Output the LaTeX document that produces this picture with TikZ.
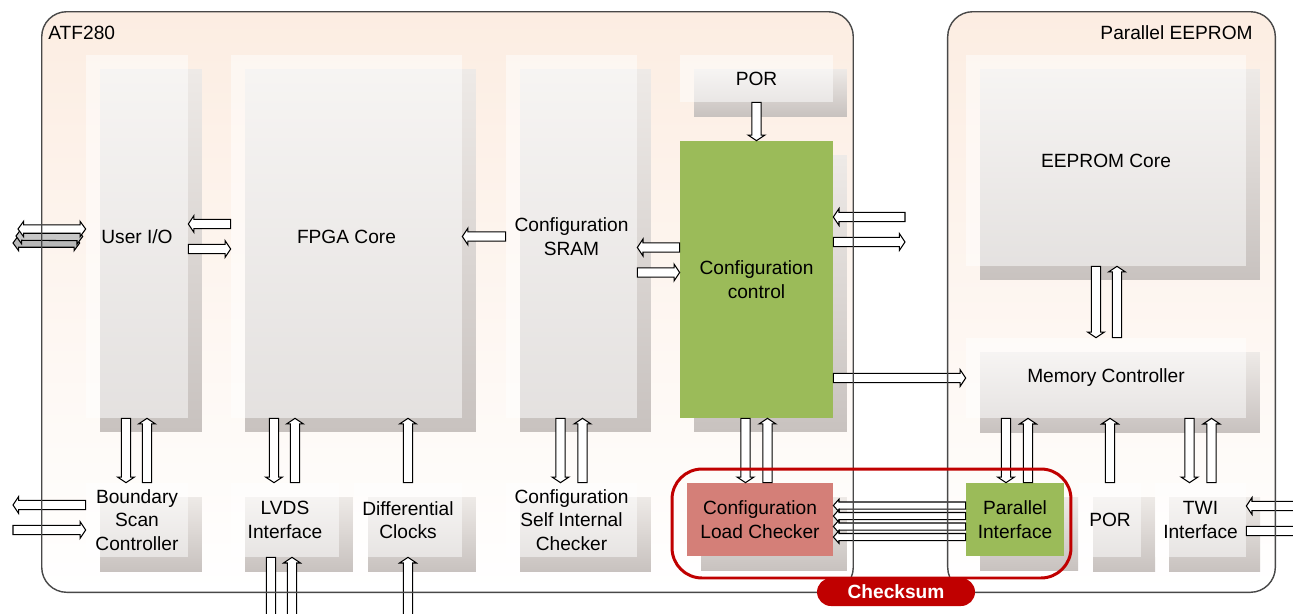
\documentclass[tikz,border=0pt]{standalone}
\usepackage{fontspec}
\setmainfont{Liberation Sans}
\usetikzlibrary{calc,shadows}
\definecolor{peach}{HTML}{FCEDE2}
\definecolor{blkgreen}{HTML}{9BBB59}
\definecolor{blkred}{HTML}{D47F78}
\definecolor{cksred}{HTML}{C00000}
\definecolor{frame}{HTML}{484848}
\definecolor{shtop}{HTML}{EEEAE7}
\definecolor{shbot}{HTML}{C8C2BF}
\tikzset{
    blkarrow/.style 2 args={to path={let \p1=(\tikztostart), \p2=(\tikztotarget), \p3=($(\p2)!3.2pt!(\p1)$) in
        ($(\p1)!#1!90:(\p2)$) -- ($(\p3)!#1!90:(\p2)$) -- ($(\p3)!#2!90:(\p2)$) -- (\p2)
        -- ($(\p3)!#2!-90:(\p2)$) -- ($(\p3)!#1!-90:(\p2)$) -- ($(\p1)!#1!-90:(\p2)$) -- cycle}},
    blkdarrow/.style 2 args={to path={let \p1=(\tikztostart), \p2=(\tikztotarget), \p3=($(\p2)!3.2pt!(\p1)$), \p4=($(\p1)!3.2pt!(\p2)$) in
        ($(\p4)!#1!90:(\p2)$) -- ($(\p3)!#1!90:(\p2)$) -- ($(\p3)!#2!90:(\p2)$) -- (\p2)
        -- ($(\p3)!#2!-90:(\p2)$) -- ($(\p3)!#1!-90:(\p2)$) -- ($(\p4)!#1!-90:(\p2)$)
        -- ($(\p4)!#2!-90:(\p2)$) -- (\p1) -- ($(\p4)!#2!90:(\p2)$) -- cycle}}
}
\begin{document}
\begin{tikzpicture}[x=0.02cm, y=-0.02cm, font=\fontsize{10.9}{13.3}\selectfont]
        \useasboundingbox (0,0) rectangle (1293,613);
        \begin{scope}
            \tikzstyle{every node}=[rectangle, rounded corners=0.5cm, top color=peach, bottom color=white, minimum height=11.6cm]
            \node (atf) at (447.5,302) [minimum width=16.22cm] {};
            \node (eep) at (1111.5,302) [minimum width=6.54cm] {};
        \end{scope}
        \node (atflbl) at (48,33) [anchor=west, inner sep=0pt] {ATF280};
        \node (eeplbl) at (1253,33) [anchor=east, inner sep=0pt] {Parallel EEPROM};
        \begin{scope}
            \tikzstyle{every node}=[rectangle, inner sep=0pt, align=center, fill=white, fill opacity=0.5, text opacity=1,
                drop shadow={shadow xshift=0.28cm, shadow yshift=-0.28cm, opacity=1, top color=shtop, bottom color=shbot}]
            \node (uio) at (137,236.5) [minimum width=2.04cm, minimum height=7.26cm] {User I/O};
            \node (fpga) at (346.5,236.5) [minimum width=4.62cm, minimum height=7.26cm] {FPGA Core};
            \node (sram) at (571.5,236.5) [minimum width=2.62cm, minimum height=7.26cm] {Configuration\\SRAM};
            \node (por1) at (756.5,78.5) [minimum width=3.06cm, minimum height=0.94cm] {POR};
            \node (cfgctl) at (756.5,279.5) [minimum width=3.06cm, minimum height=5.54cm, fill=blkgreen, fill opacity=1] {Configuration\\control};
            \node (bsc) at (137,520) [minimum width=2.04cm, minimum height=1.48cm] {Boundary\\Scan\\Controller};
            \node (lvds) at (285,520) [minimum width=2.16cm, minimum height=1.48cm] {LVDS\\Interface};
            \node (dclk) at (408,520) [minimum width=2.16cm, minimum height=1.48cm] {Differential\\Clocks};
            \node (csic) at (571.5,520) [minimum width=2.62cm, minimum height=1.48cm] {Configuration\\Self Internal\\Checker};
            \node (clc) at (760,519.5) [minimum width=2.92cm, minimum height=1.46cm, fill=blkred, fill opacity=1] {Configuration\\Load Checker};
            \node (eecore) at (1106,160.5) [minimum width=5.6cm, minimum height=4.22cm] {EEPROM Core};
            \node (memctl) at (1106,378) [minimum width=5.6cm, minimum height=1.6cm] {Memory Controller};
            \node (pif) at (1015,519.5) [minimum width=1.96cm, minimum height=1.46cm, fill=blkgreen, fill opacity=1] {Parallel\\Interface};
            \node (por2) at (1110,520) [minimum width=1.24cm, minimum height=1.48cm] {POR};
            \node (twi) at (1200.5,520) [minimum width=1.82cm, minimum height=1.48cm] {TWI\\Interface};
        \end{scope}
        \coordinate (extin) at (905,217);
        \coordinate (extout) at (905,242);
        \coordinate (lvdsout) at (271,625);
        \coordinate (lvdsin) at (292,625);
        \coordinate (dclkin) at (408,625);
        \coordinate (twiin) at (1300,506);
        \coordinate (twiout) at (1300,531);
        \coordinate (bscout) at (13,505);
        \coordinate (bscin) at (13,530);
        \coordinate (uioext1) at (18,229);
        \coordinate (uioext2) at (16,236);
        \coordinate (uioext3) at (13,243);
        \begin{scope}
            \tikzstyle{every edge}=[draw, fill=white, line width=0.6pt, blkarrow={2.6pt}{4.8pt}]
            \path
            ($(uio.south)+(-11,0)$) edge ($(bsc.north)+(-11,0)$)
            ($(bsc.north)+(10,0)$) edge ($(uio.south)+(10,0)$)
            ($(fpga.south -| lvds.north)+(-11,0)$) edge ($(lvds.north)+(-11,0)$)
            ($(lvds.north)+(10,0)$) edge ($(fpga.south -| lvds.north)+(10,0)$)
            (dclk.north) edge (fpga.south -| dclk.north)
            ($(sram.south)+(-11,0)$) edge ($(csic.north)+(-11,0)$)
            ($(csic.north)+(11,0)$) edge ($(sram.south)+(11,0)$)
            ($(cfgctl.south)+(-11,0)$) edge ($(clc.north -| cfgctl.south)+(-11,0)$)
            ($(clc.north -| cfgctl.south)+(11,0)$) edge ($(cfgctl.south)+(11,0)$)
            (por1.south) edge (cfgctl.north)
            ($(eecore.south)+(-10,0)$) edge ($(memctl.north)+(-10,0)$)
            ($(memctl.north)+(11,0)$) edge ($(eecore.south)+(11,0)$)
            ($(memctl.south -| pif.north)+(-9,0)$) edge ($(pif.north)+(-9,0)$)
            ($(pif.north)+(13,0)$) edge ($(memctl.south -| pif.north)+(13,0)$)
            (por2.north) edge (memctl.south -| por2.north)
            ($(memctl.south -| twi.north)+(-11,0)$) edge ($(twi.north)+(-11,0)$)
            ($(twi.north)+(11,0)$) edge ($(memctl.south -| twi.north)+(11,0)$)
            ($(lvds.south)+(-14,0)$) edge (lvdsout)
            (lvdsin) edge ($(lvds.south)+(7,0)$)
            (dclkin) edge (dclk.south)
            ($(fpga.west |- uio.east)+(0,-12.5)$) edge ($(uio.east)+(0,-12.5)$)
            ($(uio.east)+(0,12.5)$) edge ($(fpga.west |- uio.east)+(0,12.5)$)
            (sram.west) edge (fpga.east |- sram.west)
            ($(cfgctl.west)+(0,-32)$) edge ($(sram.east |- cfgctl.west)+(0,-32)$)
            ($(sram.east |- cfgctl.west)+(0,-7)$) edge ($(cfgctl.west)+(0,-7)$)
            (extin) edge (cfgctl.east |- extin)
            (cfgctl.east |- extout) edge (extout)
            (cfgctl.east |- memctl.west) edge (memctl.west)
            ($(pif.west)+(0,-14)$) edge[blkarrow={2pt}{3.6pt}] ($(clc.east |- pif.west)+(0,-14)$)
            ($(pif.west)+(0,-3.5)$) edge[blkarrow={2pt}{3.6pt}] ($(clc.east |- pif.west)+(0,-3.5)$)
            ($(pif.west)+(0,7)$) edge[blkarrow={2pt}{3.6pt}] ($(clc.east |- pif.west)+(0,7)$)
            ($(pif.west)+(0,17.5)$) edge[blkarrow={2pt}{3.6pt}] ($(clc.east |- pif.west)+(0,17.5)$)
            (twiin) edge (twi.east |- twiin)
            (twi.east |- twiout) edge (twiout)
            (bsc.west |- bscout) edge (bscout)
            (bscin) edge (bsc.west |- bscin)
            (uioext3) edge[blkdarrow={2.4pt}{4.4pt}, fill=black!28] ($(uio.west)+(-6,6.5)$)
            (uioext2) edge[blkdarrow={2.4pt}{4.4pt}, fill=black!22] ($(uio.west)+(-3,0)$)
            (uioext1) edge[blkdarrow={2.4pt}{4.4pt}] ($(uio.west)+(0,-7.5)$);
        \end{scope}
        \draw[frame, line width=0.8pt, rounded corners=0.5cm] (atf.north west) rectangle (atf.south east);
        \draw[frame, line width=0.8pt, rounded corners=0.5cm] (eep.north west) rectangle (eep.south east);
        \node (cksbox) at (871.5,523.5) [draw=cksred, line width=1.7pt, rounded corners=0.6cm, minimum width=7.98cm, minimum height=2.18cm] {};
        \node (ckslbl) at (896,592) [fill=cksred, rounded corners=0.28cm, minimum width=3.16cm, minimum height=0.56cm, text=white, font=\fontsize{10.9}{13.3}\selectfont\bfseries] {Checksum};
    \end{tikzpicture}
\end{document}
